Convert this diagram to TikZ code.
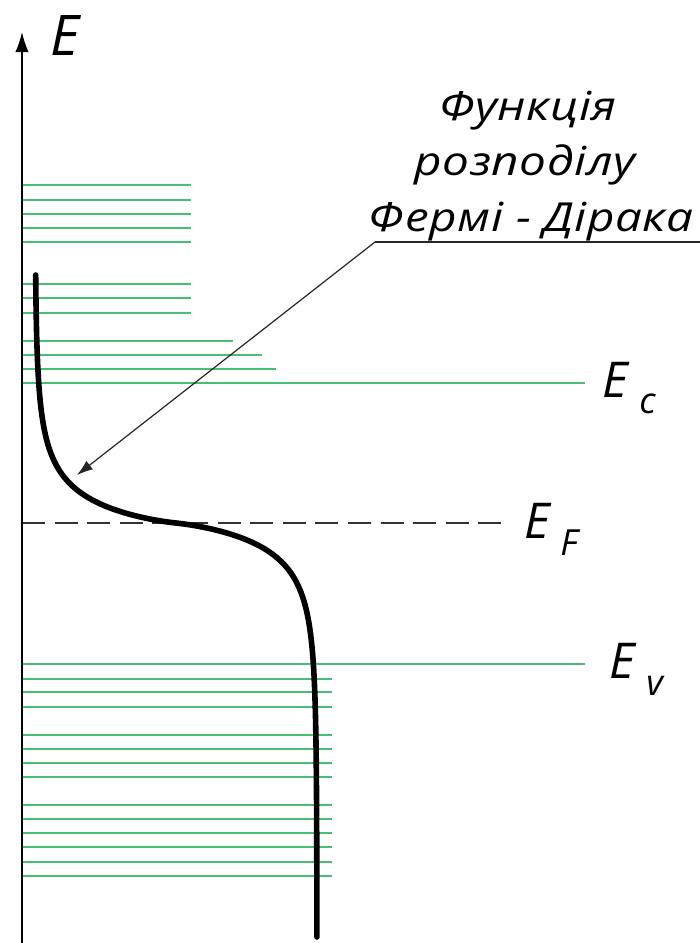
\documentclass[tikz,border=0pt]{standalone}
\usepackage{fontspec}
\setmainfont{Open Sans}
\newfontfamily\capfont{Open Sans}[FakeStretch=1.19,LetterSpace=1.5]
\usetikzlibrary{arrows.meta}
\definecolor{lvl}{RGB}{70,190,115}
\begin{document}
\begin{tikzpicture}[x=0.75pt,y=-0.75pt,
  lvlline/.style={draw=lvl, line width=1.3pt},
  lbl/.style={inner sep=0pt, anchor=base west, font=\itshape\fontsize{37}{40}\selectfont},
  sublbl/.style={inner sep=0pt, anchor=base west, font=\itshape\fontsize{27}{30}\selectfont},
  captxt/.style={inner sep=0pt, anchor=base, font=\capfont\itshape\fontsize{30}{33}\selectfont},
  thinline/.style={line width=0.9pt, black!85}]
\useasboundingbox (0,0) rectangle (700,943);
\fill[white] (0,0) rectangle (700,943);
% levels
\foreach \y in {185,200,214,228,242,284,298,313} \draw[lvlline] (22,\y) -- (191,\y);
\draw[lvlline] (22,341) -- (233,341);
\draw[lvlline] (22,355) -- (262,355);
\draw[lvlline] (22,369) -- (276,369);
\draw[lvlline] (22,383) -- (585,383);
\draw[lvlline] (22,664) -- (585,664);
\foreach \y in {679,692,707,735,749,763,777,805,819,833,847,862,876} \draw[lvlline] (22,\y) -- (332,\y);
% Fermi level
\draw[line width=1pt, black!80, dash pattern=on 17.25pt off 7.2pt] (22,523) -- (502,523);
% axis
\coordinate (ab) at (22,943);
\coordinate (at) at (22,32);
\draw[line width=1.2pt, -{Latex[length=15pt,width=10pt]}] (ab) -- (at);
% Fermi-Dirac curve
\draw[line width=4.2pt, line cap=round, line join=round] plot[domain=275:937, samples=700, variable=\t]
  ({35+282/(1+exp(-(\t-523)/(6.24+2.215*sqrt(abs(\t-523)))))}, \t);
% labels
\node[lbl, font=\itshape\fontsize{42}{44}\selectfont] (E) at (50,55) {E};
\node[lbl] (Ec) at (602,397) {E};
\node[sublbl] (c) at (639,413) {c};
\node[lbl] (EF) at (524,538) {E};
\node[sublbl] (F) at (560,555) {F};
\node[lbl] (Ev) at (609,678) {E};
\node[sublbl] (v) at (646,695) {v};
\node[captxt] (t1) at (528,120) {Функція};
\node[captxt] (t2) at (525,175) {розподілу};
\node[captxt] (t3) at (531,231) {Фермі - Дірака};
% pointer
\coordinate (ul) at (375,242);
\coordinate (ur) at (700,242);
\coordinate (tip) at (77,475);
\draw[thinline] (ur) -- (ul);
\draw[thinline, -{Latex[length=12pt,width=8pt]}] (ul) -- (tip);
\end{tikzpicture}
\end{document}
